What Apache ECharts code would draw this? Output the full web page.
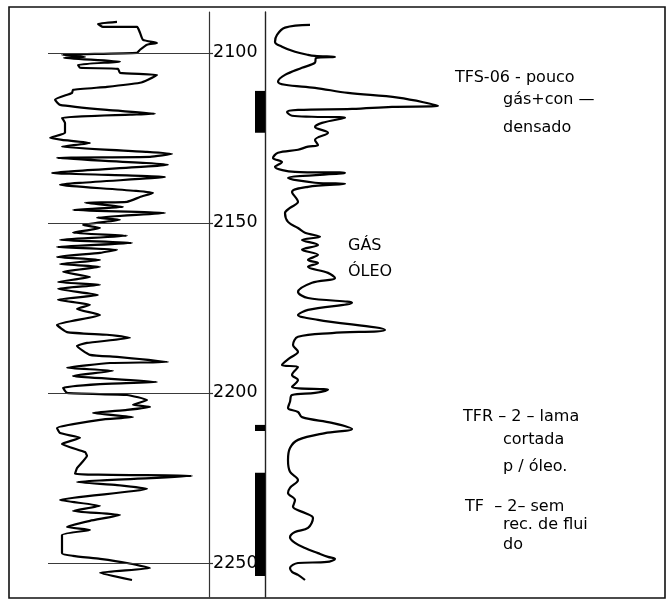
<!DOCTYPE html>
<html>
<head>
<meta charset="utf-8">
<script src="https://cdn.jsdelivr.net/npm/echarts@6/dist/echarts.min.js"></script>
<style>
  html, body { margin: 0; padding: 0; background: #fff; }
  #main { width: 672px; height: 599px; }
</style>
</head>
<body>
<div id="main"></div>
<script>
// profundidade (m) - eixo vertical
var depthMin = 2088, depthMax = 2260;
var depthTicks = [2100, 2150, 2200, 2250];
var contactDepth = 2160;     // contato gás / óleo

// perfil esquerdo: [valor, profundidade]
var leftLog = [
    [108, 2090.9], [89, 2091.5], [94, 2092.4], [128, 2092.4], [131, 2094.1], [134, 2096.2],
    [148, 2097.1], [138, 2097.6], [131, 2099.1], [128, 2100.0], [53, 2100.6], [76, 2101.2],
    [55, 2101.5], [111, 2102.6], [69, 2103.5], [71, 2104.4], [109, 2104.7], [111, 2105.9],
    [148, 2106.5], [139, 2107.9], [131, 2108.8], [98, 2110.0], [64, 2110.9], [63, 2111.8],
    [46, 2113.8], [51, 2115.3], [98, 2116.8], [146, 2117.9], [121, 2118.2], [53, 2119.1],
    [56, 2120.6], [56, 2123.5], [41, 2125.0], [53, 2125.6], [81, 2126.5], [53, 2127.6],
    [138, 2129.1], [163, 2129.7], [141, 2130.6], [48, 2130.9], [159, 2132.9], [43, 2135.3],
    [156, 2136.5], [51, 2138.8], [144, 2141.2], [131, 2142.4], [118, 2143.8], [76, 2144.1],
    [114, 2145.3], [64, 2146.2], [156, 2147.1], [88, 2148.5], [111, 2149.1], [74, 2150.6],
    [91, 2151.5], [64, 2152.9], [118, 2153.8], [51, 2155.0], [123, 2155.9], [48, 2157.1],
    [108, 2157.9], [91, 2158.8], [48, 2160.0], [91, 2160.9], [51, 2162.1], [91, 2162.9],
    [54, 2164.4], [81, 2165.9], [49, 2167.4], [91, 2168.2], [49, 2169.4], [89, 2171.2],
    [49, 2172.6], [81, 2174.1], [68, 2175.3], [91, 2177.1], [48, 2180.0], [58, 2182.1],
    [98, 2182.9], [121, 2183.8], [78, 2185.3], [68, 2186.2], [81, 2188.8], [108, 2189.4],
    [159, 2190.9], [101, 2191.2], [58, 2192.6], [104, 2193.5], [64, 2195.0], [148, 2196.8],
    [91, 2197.4], [54, 2198.5], [58, 2200.0], [118, 2200.6], [138, 2202.1], [124, 2203.5],
    [141, 2204.1], [118, 2205.0], [84, 2205.9], [124, 2207.1], [91, 2207.9], [48, 2210.3],
    [51, 2211.8], [71, 2213.2], [53, 2215.0], [76, 2217.4], [78, 2218.5], [68, 2222.1],
    [66, 2223.8], [183, 2224.4], [68, 2226.2], [108, 2227.1], [138, 2228.2], [51, 2231.5],
    [91, 2233.2], [64, 2234.7], [111, 2235.9], [81, 2237.6], [58, 2239.4], [81, 2240.3],
    [53, 2241.8], [53, 2247.1], [64, 2247.9], [91, 2248.8], [118, 2250.0], [141, 2251.5],
    [91, 2252.9], [123, 2255.0]
];

// perfil direito: [valor, profundidade]
var rightLog = [
    [45, 2091.8], [20, 2092.6], [12, 2094.7], [10, 2096.8], [17, 2098.2], [30, 2099.7],
    [43, 2100.6], [50, 2100.9], [70, 2101.2], [51, 2101.5], [50, 2102.9], [37, 2104.4],
    [20, 2106.5], [13, 2108.5], [20, 2109.4], [50, 2110.3], [83, 2111.8], [133, 2113.2],
    [173, 2115.6], [127, 2115.9], [87, 2116.5], [33, 2116.8], [22, 2117.4], [27, 2118.5],
    [47, 2118.8], [80, 2119.1], [57, 2120.6], [50, 2121.8], [63, 2123.5], [50, 2125.6],
    [53, 2127.1], [43, 2127.6], [33, 2128.5], [13, 2129.4], [8, 2130.9], [17, 2132.1],
    [10, 2133.5], [30, 2135.0], [80, 2135.3], [23, 2136.8], [50, 2138.2], [80, 2138.5],
    [43, 2139.4], [27, 2140.9], [33, 2143.8], [25, 2145.6], [20, 2147.1], [23, 2149.7],
    [33, 2151.5], [40, 2152.9], [55, 2154.1], [37, 2155.0], [53, 2156.5], [37, 2157.9],
    [53, 2159.4], [43, 2160.9], [53, 2161.8], [43, 2162.9], [63, 2164.7], [70, 2166.2],
    [47, 2167.6], [33, 2170.3], [43, 2172.1], [87, 2173.5], [43, 2175.6], [33, 2177.1],
    [53, 2178.5], [120, 2181.5], [67, 2182.4], [33, 2183.5], [28, 2185.9], [33, 2187.9],
    [25, 2189.7], [17, 2191.8], [33, 2192.4], [27, 2194.7], [33, 2196.2], [27, 2198.2],
    [63, 2199.1], [50, 2200.0], [27, 2200.6], [25, 2202.6], [23, 2204.4], [33, 2205.6],
    [37, 2207.1], [67, 2208.8], [87, 2210.6], [60, 2211.8], [33, 2213.8], [25, 2216.2],
    [23, 2219.7], [25, 2223.2], [33, 2225.6], [25, 2227.9], [23, 2229.4], [30, 2231.5],
    [28, 2233.5], [40, 2235.3], [48, 2236.8], [43, 2239.7], [30, 2240.9], [25, 2242.4],
    [30, 2244.1], [40, 2245.6], [53, 2247.1], [63, 2248.2], [70, 2248.8], [62, 2249.7],
    [33, 2250.0], [25, 2251.5], [27, 2252.6], [33, 2253.5], [40, 2255.0]
];

// intervalos testados (topo, base)
var testedIntervals = [[2111.2, 2123.5], [2209.4, 2211.2], [2223.5, 2253.8]];

// anotações: [texto, valor x na trilha direita, profundidade]
var notes = [
    ['TFS-06 - pouco', 190, 2107.4],
    ['gás+con —', 238, 2113.8],
    ['densado', 238, 2122.1],
    ['GÁS', 83, 2156.8],
    ['ÓLEO', 83, 2164.4],
    ['TFR – 2 – lama', 198, 2207.1],
    ['cortada', 238, 2213.8],
    ['p / óleo.', 238, 2221.8],
    ['TF  – 2– sem', 200, 2233.5],
    ['rec. de flui', 238, 2238.8],
    ['do', 238, 2244.7]
];

var FONT = 'DejaVu Sans';
var gridLine = { color: '#3a3a3a', width: 1.2, type: 'solid' };

function hLines(x0, x1, depths) {
    return depths.map(function (d) {
        return [{ coord: [x0, d] }, { coord: [x1, d] }];
    });
}

function depthAxis(idx, extra) {
    var ax = {
        type: 'value',
        gridIndex: idx,
        inverse: true,
        min: depthMin,
        max: depthMax,
        axisLine: { show: false, onZero: false },
        axisTick: { show: false },
        axisLabel: { show: false },
        splitLine: { show: false }
    };
    for (var k in extra) ax[k] = extra[k];
    return ax;
}

var chart = echarts.init(document.getElementById('main'));
chart.setOption({
    backgroundColor: '#fff',
    animation: false,
    grid: [
        { left: 9, top: 12, width: 200, height: 585 },    // trilha esquerda
        { left: 209, top: 12, width: 56, height: 585 },   // coluna de profundidade
        { left: 265, top: 12, width: 400, height: 585 },  // trilha direita
        { left: 9, top: 7, width: 656, height: 591, show: true,
          borderColor: '#111', borderWidth: 1.6, backgroundColor: 'transparent' }
    ],
    xAxis: [
        { type: 'value', gridIndex: 0, min: 0, max: 200, show: false },
        { type: 'value', gridIndex: 1, min: 0, max: 56, show: false },
        { type: 'value', gridIndex: 2, min: 0, max: 400, show: false },
        { type: 'value', gridIndex: 3, min: 0, max: 1, show: false }
    ],
    yAxis: [
        depthAxis(0, {
            position: 'right',
            axisLine: { show: true, onZero: false, lineStyle: { color: '#333', width: 1.2 } },
            axisTick: { show: true, inside: false, length: 4, customValues: depthTicks,
                        lineStyle: { color: '#333', width: 1.2 } },
            axisLabel: { show: true, customValues: depthTicks, margin: 4,
                         color: '#000', fontSize: 17.5, fontFamily: FONT,
                         formatter: function (v) { return String(v); } }
        }),
        depthAxis(1, {}),
        depthAxis(2, {
            position: 'left',
            axisLine: { show: true, onZero: false, lineStyle: { color: '#222', width: 1.4 } }
        }),
        { type: 'value', gridIndex: 3, min: 0, max: 1, show: false }
    ],
    series: [
        {
            name: 'perfil esquerdo',
            type: 'line',
            xAxisIndex: 0,
            yAxisIndex: 0,
            data: leftLog,
            showSymbol: false,
            smooth: 0.15,
            lineStyle: { color: '#000', width: 2.2 },
            markLine: {
                silent: true,
                symbol: 'none',
                label: { show: false },
                lineStyle: gridLine,
                data: hLines(39, 200, depthTicks)
            }
        },
        {
            name: 'perfil direito',
            type: 'line',
            xAxisIndex: 2,
            yAxisIndex: 2,
            data: rightLog,
            showSymbol: false,
            smooth: 0.35,
            lineStyle: { color: '#000', width: 2.2 },
            markLine: {
                silent: true,
                symbol: 'none',
                label: { show: false },
                lineStyle: gridLine,
                data: hLines(-2, 352, depthTicks.concat([contactDepth]))
            }
        },
        {
            name: 'intervalos',
            type: 'custom',
            xAxisIndex: 1,
            yAxisIndex: 1,
            data: testedIntervals,
            renderItem: function (params, api) {
                var p0 = api.coord([46, api.value(0)]);
                var p1 = api.coord([56, api.value(1)]);
                return {
                    type: 'rect',
                    shape: { x: p0[0], y: p0[1], width: p1[0] - p0[0], height: p1[1] - p0[1] },
                    style: { fill: '#000' }
                };
            }
        },
        {
            name: 'anotações',
            type: 'scatter',
            xAxisIndex: 2,
            yAxisIndex: 2,
            symbolSize: 0,
            silent: true,
            itemStyle: { opacity: 1 },
            data: notes.map(function (n) { return { value: [n[1], n[2]], name: n[0] }; }),
            label: {
                show: true,
                position: 'right',
                distance: 0,
                formatter: '{b}',
                color: '#000',
                fontSize: 16,
                fontFamily: FONT
            }
        }
    ]
});
</script>
</body>
</html>
